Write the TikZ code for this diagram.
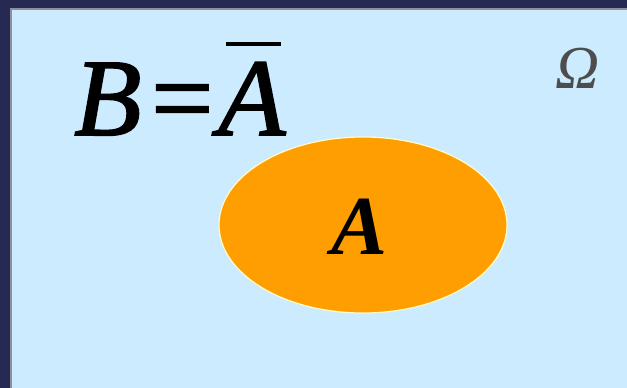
\documentclass[tikz,border=0pt]{standalone}
\usepackage{fontspec}
\setmainfont{Liberation Serif}
\newfontfamily\semit[FakeBold=1.6]{Liberation Serif}
\usetikzlibrary{shapes.geometric}
\definecolor{navy}{HTML}{262952}
\definecolor{sky}{HTML}{CCEBFF}
\definecolor{frame}{HTML}{8C8F9C}
\definecolor{orng}{HTML}{FF9E00}
\definecolor{omg}{HTML}{4D4D4D}
\tikzset{
  big/.style={inner sep=0pt, font=\fontsize{110}{110}\selectfont\semit\itshape},
}
\begin{document}
\begin{tikzpicture}[x=1pt,y=-1pt]
\useasboundingbox (0,0) rectangle (627,388);
\fill[navy] (0,0) rectangle (627,388);
\fill[frame] (10,8) rectangle (627,388);
\fill[sky] (12,10) rectangle (627,388);
\node[ellipse, draw=white!80!yellow, line width=1.2pt, fill=orng, minimum width=288, minimum height=176, inner sep=0pt] (ell) at (363,225) {};
\node[inner sep=0pt, font=\fontsize{84}{84}\selectfont\bfseries\itshape, anchor=base] (a) at (360,254) {A};
\node[big, anchor=base west] (b) at (74,135) {B};
\node[inner sep=0pt, font=\fontsize{110}{110}\selectfont\semit, anchor=base west] (eq) at (151,135) {=};
\node[big, anchor=base west] (abar) at (218,135) {A};
\draw[line width=4pt] (226,44) -- (281,44);
\node[inner sep=0pt, font=\fontsize{61}{61}\selectfont\itshape, text=omg, anchor=base] (om) at (578,88) {Ω};
\end{tikzpicture}
\end{document}
